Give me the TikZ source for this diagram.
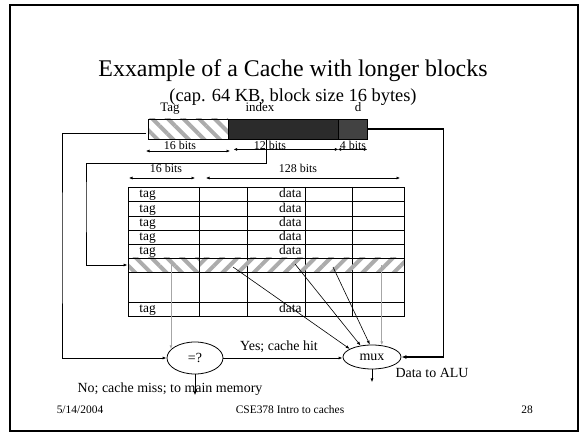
\documentclass[tikz,border=0pt]{standalone}
\usepackage{fontspec}
\setmainfont{Liberation Serif}
\usetikzlibrary{arrows.meta,shapes.geometric,patterns.meta}

\begin{document}
\begin{tikzpicture}[
  x=1bp, y=-1bp,
  >={Latex[length=4bp,width=3bp]},
  line width=0.8bp,
  field/.style={draw, minimum height=20bp, inner sep=0pt},
  hatchL/.style={pattern={Lines[angle=-45,distance=11bp,line width=4bp]}, pattern color=gray!65},
  hatchR/.style={pattern={Lines[angle=45,distance=11bp,line width=4bp]}, pattern color=gray!65},
  lbl/.style={font=\fontsize{13}{15}\selectfont, inner sep=0pt, anchor=base},
  bits/.style={font=\fontsize{12}{14}\selectfont, inner sep=0pt, anchor=base},
  cell/.style={font=\fontsize{13.5}{15}\selectfont, inner sep=0pt},
  dimline/.style={{Latex[length=3.5bp,width=3bp]}-{Latex[length=3.5bp,width=3bp]}, line width=0.6bp},
  oval/.style={draw, ellipse, inner sep=0pt, font=\fontsize{14}{16}\selectfont},
  probe/.style={->, draw=gray!70},
  wire/.style={->, line width=0.6bp},
  note/.style={font=\fontsize{14}{16}\selectfont, inner sep=0pt, anchor=base},
  foot/.style={font=\fontsize{11.5}{13}\selectfont, inner sep=0pt, anchor=base}
]
\useasboundingbox (0,0) rectangle (579,433);
\draw[line width=1.5bp] (10,5) rectangle (578,431);

\node[font=\fontsize{24}{28}\selectfont, anchor=base, inner sep=0pt] (title) at (293,77) {Exxample of a Cache with longer blocks};
\node[font=\fontsize{18.5}{22}\selectfont, anchor=base, inner sep=0pt] (sub) at (293,102) {(cap. 64 KB, block size 16 bytes)};

\node[field, hatchL, minimum width=80bp] (tagf) at (188,129) {};
\node[field, fill=black!83, minimum width=110bp] (idxf) at (283,129) {};
\node[field, fill=black!74, minimum width=29bp] (dfld) at (352.5,129) {};
\node[lbl] (ltag) at (170,112) {Tag};
\node[lbl] (lidx) at (260,112) {index};
\node[lbl] (ld) at (358,112) {d};

\draw[dimline] ([yshift=-10bp]tagf.south west) -- ([yshift=-10bp]tagf.south east);
\draw[dimline] ([xshift=6bp,yshift=-10bp]idxf.south west) -- ([yshift=-10bp]idxf.south east);
\draw[dimline] ([yshift=-10bp]dfld.south west) -- ([yshift=-10bp]dfld.south east);
\node[bits] (btag) at (180,150) {16 bits};
\node[bits] (bidx) at (270,150) {12 bits};
\node[bits] (bd) at (353,150) {4 bits};

\draw[dimline] (129,178) -- (195,178);
\draw[dimline] (206,178) -- (400,178);
\node[bits] (b16) at (166,173) {16 bits};
\node[bits] (b128) at (298,173) {128 bits};

\draw (128,187) rectangle (404,316);
\foreach \y in {201,216,230,244,258,272,302}
  \draw (128,\y) -- (404,\y);
\foreach \x in {199,247,305,352}
  \draw (\x,187) -- (\x,316);
\node[draw, hatchL, minimum width=71bp, minimum height=14bp, inner sep=0pt] (hitL) at (163.5,265) {};
\node[draw, hatchR, minimum width=205bp, minimum height=14bp, inner sep=0pt] (hitR) at (301.5,265) {};
\foreach \y in {201,216,230,244,258,316} {
  \node[cell, anchor=base west] (tag\y) at (139,\y-3.5) {tag};
  \node[cell, anchor=base east] (data\y) at (302,\y-3.5) {data};
}

\node[oval, minimum width=56bp, minimum height=32bp] (eq) at (195,358) {=?};
\node[oval, minimum width=58bp, minimum height=24bp] (mux) at (372,357) {mux};

\coordinate (lft) at (62,250);
\coordinate (bend) at (86,200);
\draw[->] ([yshift=-4bp]tagf.west) -| (lft) |- (eq.west);
\draw[->] ([xshift=-17bp]idxf.south) -- ++(0,24) -| (bend) |- (hitL.west);
\draw[-{Latex[length=5bp,width=4bp]}, line width=1.8bp] (dfld.east) -- ++(76,0) |- (mux.east);
\draw[->] (eq.east) -- (eq.east -| mux.west);
\draw[->] (eq.south) -- ++(0,21);
\draw[->] (mux.south) -- ++(0,13);

\draw[probe] (eq.160 |- hitL.center) -- (eq.160);
\draw[probe] (mux.50 |- hitR.center) -- (mux.50);
\coordinate (w1) at (233,267);
\coordinate (w2) at (295,264);
\coordinate (w3) at (333,267);
\draw[wire] (w1) -- (mux.160);
\draw[wire] (w2) -- (mux.135);
\draw[wire] (w3) -- (mux.100);

\node[note] (hit) at (279,350) {Yes; cache hit};
\node[note] (miss) at (170,392) {No; cache miss; to main memory};
\node[note] (alu) at (432,377) {Data to ALU};

\node[foot] (date) at (80,413) {5/14/2004};
\node[foot] (course) at (290,413) {CSE378 Intro to caches};
\node[foot] (page) at (527,413) {28};
\end{tikzpicture}
\end{document}
